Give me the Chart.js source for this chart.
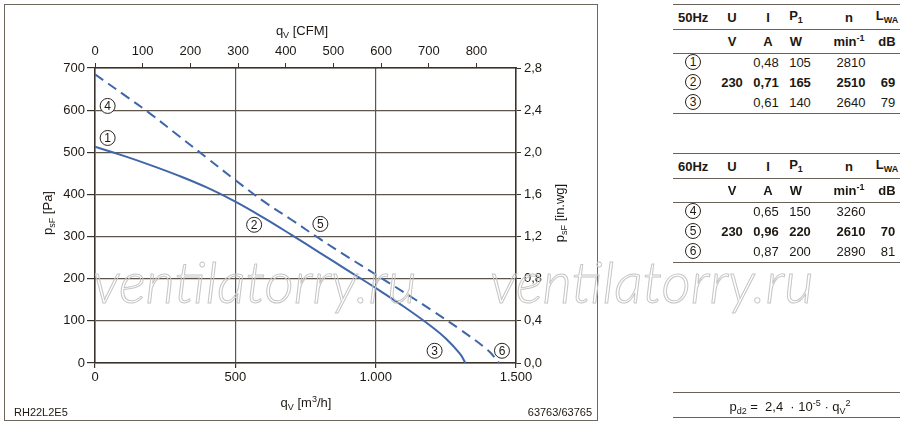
<!DOCTYPE html>
<html>
<head>
<meta charset="utf-8">
<script src="https://cdn.jsdelivr.net/npm/chart.js@4.4.0/dist/chart.umd.min.js"></script>
<style>
body{margin:0;width:900px;height:426px;position:relative;background:#fff;overflow:hidden;
  font-family:"Liberation Sans",Arial,sans-serif;color:#1d1813}
#frame{position:absolute;left:4px;top:4px;width:594px;height:417px;border:1.5px solid #70685e;box-sizing:border-box}
#c{position:absolute;left:0;top:0}
.t{position:absolute;white-space:nowrap;font-size:13px;transform:translate(-50%,-50%);line-height:1}
.b{font-weight:bold}
.l{transform:translate(0,-50%)}
.r{transform:translate(-100%,-50%)}
.rot{transform:translate(-50%,-50%) rotate(-90deg)}
sub{font-size:9px;vertical-align:-3px}
sup{font-size:9px;vertical-align:5px}
.c{display:inline-block;width:14px;height:14px;border:1px solid #2a241e;border-radius:50%;font-size:12px;line-height:14px;text-align:center}
.rule{position:absolute;left:673px;width:227px;height:0;border-top:1.5px solid #6a6258}
.wm{position:absolute;font:italic 300 57px Lato,"DejaVu Sans",sans-serif;color:transparent;
  -webkit-text-stroke:1px #c6c6c6;white-space:nowrap}
</style>
</head>
<body>
<div id="frame"></div>
<canvas id="c" width="600" height="426"></canvas>
<div class="wm" style="left:93px;top:247px">ventilatorry.ru</div>
<div class="wm" style="left:490px;top:247px">ventilatorry.ru</div>

<div class="t" style="left:302px;top:32px">q<sub>V</sub> [CFM]</div>
<div class="t" style="left:306px;top:403px">q<sub>V</sub> [m<sup>3</sup>/h]</div>
<div class="t rot" style="left:49px;top:213px">p<sub>sF</sub> [Pa]</div>
<div class="t rot" style="left:561px;top:213px">p<sub>sF</sub> [in.wg]</div>
<div class="t l" style="left:14px;top:412px;font-size:11px">RH22L2E5</div>
<div class="t r" style="left:592px;top:412px;font-size:11px">63763/63765</div>

<div class="rule" style="top:392px"></div>
<div class="rule" style="top:417px"></div>
<div class="t" style="left:790px;top:407px">p<sub>d2</sub> = &nbsp;2,4 &nbsp;· 10<sup>-5</sup> · q<sub>V</sub><sup>2</sup></div>

<script>
// curve 1-2-3 (50 Hz, solid) and 4-5-6 (60 Hz, dashed): q in m3/h, p in Pa
const flow50 = [0, 100, 200, 300, 400, 500, 600, 700, 800, 900, 1000, 1100, 1200, 1250, 1300, 1320];
const press50 = [513, 492, 469, 444, 416, 383, 345, 304, 262, 220, 178, 134, 86, 58, 22, 0];
const flow60 = [0, 100, 200, 300, 400, 500, 600, 700, 800, 900, 1000, 1100, 1200, 1300, 1400, 1440];
const press60 = [685, 638, 590, 538, 486, 434, 384, 340, 295, 252, 210, 168, 125, 80, 30, 0];

// circled operating point labels
const pointIds = ['1', '2', '3', '4', '5', '6'];
const pointFlow = [45, 567, 1210, 45, 803, 1450];
const pointPress = [534, 328, 29, 610, 330, 29];

// tables
const headCols = ['U', 'I', 'P<sub>1</sub>', 'n', 'L<sub>WA</sub>'];
const unitCols = ['V', 'A', 'W', 'min<sup>-1</sup>', 'dB'];
const rows50 = [
  ['1', '', '0,48', '105', '2810', ''],
  ['2', '230', '0,71', '165', '2510', '69'],
  ['3', '', '0,61', '140', '2640', '79']
];
const rows60 = [
  ['4', '', '0,65', '150', '3260', ''],
  ['5', '230', '0,96', '220', '2610', '70'],
  ['6', '', '0,87', '200', '2890', '81']
];

const CFM = 1.699; // m3/h per CFM
const textCol = '#1d1813';
const gridCol = '#5e564c';
const axisCol = '#3a332b';
const blue = '#3f66a8';
const tickFont = {family: '"Liberation Sans", Arial, sans-serif', size: 13};

function thousands(v) {
  if (v >= 1000) return Math.floor(v / 1000) + '.' + String(v % 1000).padStart(3, '0');
  return String(v);
}

var circles = {
  id: 'circles',
  afterDatasetsDraw: function(chart) {
    var c = chart.ctx, xs = chart.scales.x, ys = chart.scales.y;
    c.save();
    for (var i = 0; i < pointIds.length; i++) {
      var px = xs.getPixelForValue(pointFlow[i]);
      var py = ys.getPixelForValue(pointPress[i]);
      c.beginPath();
      c.arc(px, py, 7.5, 0, Math.PI * 2);
      c.fillStyle = '#fff';
      c.fill();
      c.lineWidth = 1;
      c.strokeStyle = '#2a241e';
      c.stroke();
      c.fillStyle = textCol;
      c.font = '12px "Liberation Sans", Arial, sans-serif';
      c.textAlign = 'center';
      c.textBaseline = 'middle';
      c.fillText(pointIds[i], px, py + 0.5);
    }
    c.restore();
  }
};

new Chart(document.getElementById('c'), {
  type: 'line',
  data: {
    datasets: [
      {
        label: '50Hz',
        data: flow50.map(function(q, i) { return {x: q, y: press50[i]}; }),
        borderColor: blue,
        borderWidth: 2,
        pointRadius: 0,
        tension: 0.4,
        fill: false
      },
      {
        label: '60Hz',
        data: flow60.map(function(q, i) { return {x: q, y: press60[i]}; }),
        borderColor: blue,
        borderWidth: 2,
        borderDash: [10, 6],
        pointRadius: 0,
        tension: 0.4,
        fill: false
      }
    ]
  },
  options: {
    responsive: false,
    animation: false,
    layout: {padding: 0},
    plugins: {legend: {display: false}, tooltip: {enabled: false}},
    scales: {
      x: {
        type: 'linear', position: 'bottom', min: 0, max: 1500,
        ticks: {stepSize: 500, color: textCol, font: tickFont, padding: 2, maxRotation: 0,
                callback: function(v) { return thousands(v); }},
        grid: {color: gridCol, lineWidth: 1.2, tickLength: 5, tickColor: axisCol},
        border: {color: axisCol, width: 1.5},
        afterFit: function(s) { s.height = 63; }
      },
      x2: {
        type: 'linear', position: 'top', min: 0, max: 1500 / CFM,
        ticks: {stepSize: 100, color: textCol, font: tickFont, padding: 4, maxRotation: 0, includeBounds: false},
        grid: {drawOnChartArea: false, tickLength: 5, tickColor: axisCol},
        border: {color: axisCol, width: 1.5},
        afterFit: function(s) { s.height = 68; }
      },
      y: {
        type: 'linear', position: 'left', min: 0, max: 700,
        ticks: {stepSize: 100, color: textCol, font: tickFont, padding: 2},
        grid: {color: gridCol, lineWidth: 1.2, tickLength: 8, tickColor: axisCol},
        border: {color: axisCol, width: 1.5},
        afterFit: function(s) { s.width = 95; }
      },
      y2: {
        type: 'linear', position: 'right', min: 0, max: 2.8,
        ticks: {stepSize: 0.4, color: textCol, font: tickFont, padding: 3,
                callback: function(v) { return v.toFixed(1).replace('.', ','); }},
        grid: {drawOnChartArea: false, tickLength: 5, tickColor: axisCol},
        border: {color: axisCol, width: 1.5},
        afterFit: function(s) { s.width = 84; }
      }
    }
  },
  plugins: [circles]
});

// right-hand tables
const headX = [732, 768, 796, 849, 887];
const valX = [732, 766, 800, 851, 888];
function put(html, x, y, cls) {
  var d = document.createElement('div');
  d.className = 't ' + (cls || '');
  d.style.left = x + 'px';
  d.style.top = y + 'px';
  d.innerHTML = html;
  document.body.appendChild(d);
}
function rule(y) {
  var d = document.createElement('div');
  d.className = 'rule';
  d.style.top = y + 'px';
  document.body.appendChild(d);
}
function table(title, rows, top) {
  rule(top + 4); rule(top + 29); rule(top + 53); rule(top + 113);
  put(title, 678, top + 17, 'b l');
  headCols.forEach(function(h, i) { put(h, headX[i], top + 17, 'b'); });
  unitCols.forEach(function(u, i) { put(u, headX[i], top + 41, 'b'); });
  rows.forEach(function(r, k) {
    var y = top + 62 + k * 20;
    var cls = k === 1 ? 'b' : '';
    put('<span class="c">' + r[0] + '</span>', 693, y, '');
    for (var i = 1; i < r.length; i++) if (r[i]) put(r[i], valX[i - 1], y, cls);
  });
}
table('50Hz', rows50, 0);
table('60Hz', rows60, 149);
</script>
</body>
</html>
